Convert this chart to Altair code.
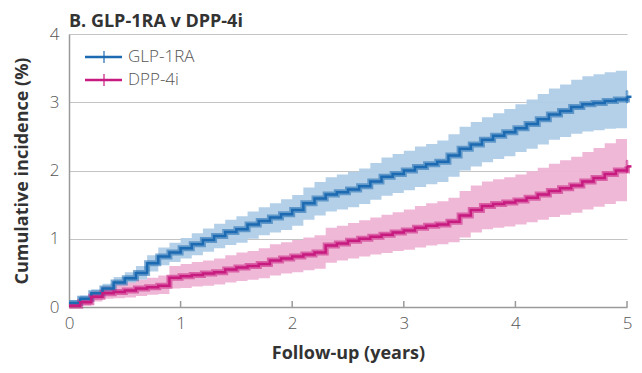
import altair as alt
import pandas as pd

times = [round(i * 0.1, 1) for i in range(51)]

glp_est = [0.06, 0.12, 0.20, 0.27, 0.36, 0.42, 0.50, 0.64, 0.74, 0.80,
           0.86, 0.92, 0.98, 1.04, 1.10, 1.14, 1.21, 1.26, 1.31, 1.36,
           1.42, 1.52, 1.59, 1.65, 1.68, 1.72, 1.77, 1.84, 1.91, 1.95,
           2.00, 2.05, 2.09, 2.13, 2.22, 2.32, 2.38, 2.45, 2.51, 2.56,
           2.62, 2.68, 2.75, 2.82, 2.87, 2.93, 2.97, 2.99, 3.02, 3.04, 3.08]
glp_hi = [0.10, 0.17, 0.26, 0.34, 0.44, 0.51, 0.60, 0.76, 0.87, 0.94,
          1.01, 1.08, 1.15, 1.22, 1.28, 1.33, 1.40, 1.46, 1.52, 1.58,
          1.64, 1.75, 1.83, 1.90, 1.94, 1.98, 2.03, 2.11, 2.19, 2.24,
          2.29, 2.35, 2.39, 2.44, 2.53, 2.64, 2.71, 2.78, 2.84, 2.90,
          2.97, 3.04, 3.12, 3.20, 3.26, 3.33, 3.38, 3.41, 3.44, 3.46, 3.50]
glp_lo = [0.02, 0.07, 0.14, 0.20, 0.28, 0.33, 0.40, 0.52, 0.61, 0.66,
          0.71, 0.76, 0.81, 0.86, 0.91, 0.94, 1.00, 1.05, 1.09, 1.13,
          1.19, 1.28, 1.34, 1.40, 1.43, 1.46, 1.51, 1.57, 1.63, 1.67,
          1.71, 1.76, 1.80, 1.83, 1.91, 2.00, 2.06, 2.12, 2.17, 2.21,
          2.27, 2.32, 2.38, 2.45, 2.49, 2.54, 2.57, 2.59, 2.61, 2.62, 2.64]

dpp_est = [0.02, 0.07, 0.15, 0.20, 0.22, 0.24, 0.27, 0.29, 0.31, 0.43,
           0.45, 0.47, 0.49, 0.51, 0.55, 0.58, 0.60, 0.63, 0.68, 0.71,
           0.74, 0.77, 0.80, 0.90, 0.93, 0.97, 1.00, 1.03, 1.06, 1.09,
           1.12, 1.16, 1.19, 1.21, 1.25, 1.34, 1.42, 1.48, 1.51, 1.53,
           1.56, 1.60, 1.65, 1.70, 1.74, 1.78, 1.84, 1.89, 1.95, 2.00, 2.06]
dpp_hi = [0.05, 0.13, 0.23, 0.30, 0.33, 0.36, 0.40, 0.43, 0.46, 0.60,
          0.63, 0.66, 0.68, 0.71, 0.76, 0.80, 0.82, 0.86, 0.92, 0.95,
          0.98, 1.02, 1.05, 1.16, 1.19, 1.23, 1.27, 1.31, 1.35, 1.39,
          1.43, 1.48, 1.52, 1.55, 1.60, 1.70, 1.78, 1.84, 1.87, 1.90,
          1.94, 1.99, 2.04, 2.10, 2.15, 2.20, 2.27, 2.33, 2.40, 2.46, 2.54]
dpp_lo = [0.00, 0.02, 0.08, 0.12, 0.13, 0.14, 0.16, 0.18, 0.19, 0.27,
          0.28, 0.30, 0.31, 0.33, 0.36, 0.38, 0.40, 0.42, 0.46, 0.49,
          0.51, 0.54, 0.56, 0.65, 0.68, 0.71, 0.74, 0.77, 0.79, 0.82,
          0.84, 0.87, 0.90, 0.92, 0.95, 1.02, 1.09, 1.14, 1.16, 1.18,
          1.21, 1.24, 1.28, 1.32, 1.35, 1.38, 1.43, 1.47, 1.51, 1.55, 1.59]

groups = ["GLP-1RA", "DPP-4i"]
line_colors = ["#1c6ab1", "#c81b80"]
band_colors = ["#b0cde7", "#efb4d5"]
x_ticks = [0, 1, 2, 3, 4, 5]
y_ticks = [0, 1, 2, 3, 4]

rows = []
for g, est, lo, hi in [(groups[0], glp_est, glp_lo, glp_hi), (groups[1], dpp_est, dpp_lo, dpp_hi)]:
    for t, e, l, h in zip(times, est, lo, hi):
        rows.append({"t": t, "est": e, "lo": l, "hi": h, "group": g})
df = pd.DataFrame(rows)
df_end = df[df["t"] == times[-1]]

FONT = "Open Sans"
xscale = alt.Scale(domain=[0, 5], nice=False)
x = alt.X("t:Q", scale=xscale,
          axis=alt.Axis(values=x_ticks, format="d", title="Follow-up (years)",
                        grid=False, ticks=False, domainColor="#9a9a9a", domainWidth=1.5,
                        labelFontSize=17, labelColor="#555555", labelPadding=8,
                        labelFlush=False,
                        labelFont=FONT, labelFontWeight=300,
                        titleFont=FONT, titleFontSize=18, titleFontWeight="bold",
                        titleColor="#333333", titlePadding=13))
yscale = alt.Scale(domain=[0, 4], nice=False)
yaxis = alt.Axis(values=y_ticks, format="d", title="Cumulative incidence (%)", grid=True,
                 gridColor="#c4c4c4", gridWidth=1, ticks=False, domainColor="#9a9a9a",
                 domainWidth=1.5, labelFontSize=17, labelColor="#555555", labelPadding=10,
                 labelFlush=False,
                 labelFont=FONT, labelFontWeight=300,
                 titleFont=FONT, titleFontSize=18, titleFontWeight="bold",
                 titleColor="#333333", titlePadding=18)

band_scale = alt.Scale(domain=groups, range=band_colors)
line_scale = alt.Scale(domain=groups, range=line_colors)

base = alt.Chart(df)
bands = base.mark_area(interpolate="step-after", opacity=0.95).encode(
    x=x, y=alt.Y("lo:Q", scale=yscale, axis=yaxis), y2="hi:Q",
    fill=alt.Fill("group:N", scale=band_scale, legend=None),
    detail="group:N")
thick = base.mark_line(interpolate="step-after", strokeWidth=6, opacity=0.55).encode(
    x=x, y=alt.Y("est:Q", scale=yscale),
    stroke=alt.Stroke("group:N", scale=line_scale, legend=None))
core = base.mark_line(interpolate="step-after", strokeWidth=2.5).encode(
    x=x, y=alt.Y("est:Q", scale=yscale),
    stroke=alt.Stroke("group:N", scale=line_scale, legend=None))
ends = alt.Chart(df_end).mark_tick(orient="vertical", size=12, thickness=1.5).encode(
    x=x, y=alt.Y("est:Q", scale=yscale),
    stroke=alt.Stroke("group:N", scale=line_scale, legend=None),
    fill=alt.value("transparent"))
ends_h = alt.Chart(df_end).mark_rule(strokeWidth=2.5).encode(
    x=x, y=alt.Y("est:Q", scale=yscale), x2=alt.datum(5.04),
    stroke=alt.Stroke("group:N", scale=line_scale, legend=None))

tick_df = pd.DataFrame({"t": x_ticks[1:]})
xticks = alt.Chart(tick_df).mark_rule(color="#9a9a9a", strokeWidth=1.5).encode(
    x=alt.X("t:Q", scale=xscale),
    y=alt.value(273), y2=alt.value(267))

legend_layers = []
for i, g in enumerate(groups):
    ly = 23 + 23 * i
    ldf = pd.DataFrame({"label": [g]})
    legend_layers.append(alt.Chart(ldf).mark_rule(color=line_colors[i], strokeWidth=2.5).encode(
        x=alt.value(16), x2=alt.value(53), y=alt.value(ly)))
    legend_layers.append(alt.Chart(ldf).mark_rule(color=line_colors[i], strokeWidth=1.2).encode(
        x=alt.value(35), y=alt.value(ly - 6), y2=alt.value(ly + 6)))
    legend_layers.append(alt.Chart(ldf).mark_text(align="left", baseline="middle", fontSize=17,
                                                  font=FONT, fontWeight=300, color="#555555").encode(
        x=alt.value(59), y=alt.value(ly), text="label:N"))

chart = alt.layer(bands, thick, core, ends, ends_h, xticks, *legend_layers).properties(
    width=558, height=273,
    title=alt.TitleParams("B. GLP-1RA v DPP-4i", anchor="start", font=FONT, fontSize=18,
                          fontWeight="bold", color="#333333", offset=-6),
    padding={"left": 69, "top": 34, "right": 15, "bottom": 66},
    autosize=alt.AutoSizeParams(type="none"),
).configure_view(stroke=None).configure_title(frame="group")

chart.save("out.html", embed_options={"renderer": "svg", "actions": False})
